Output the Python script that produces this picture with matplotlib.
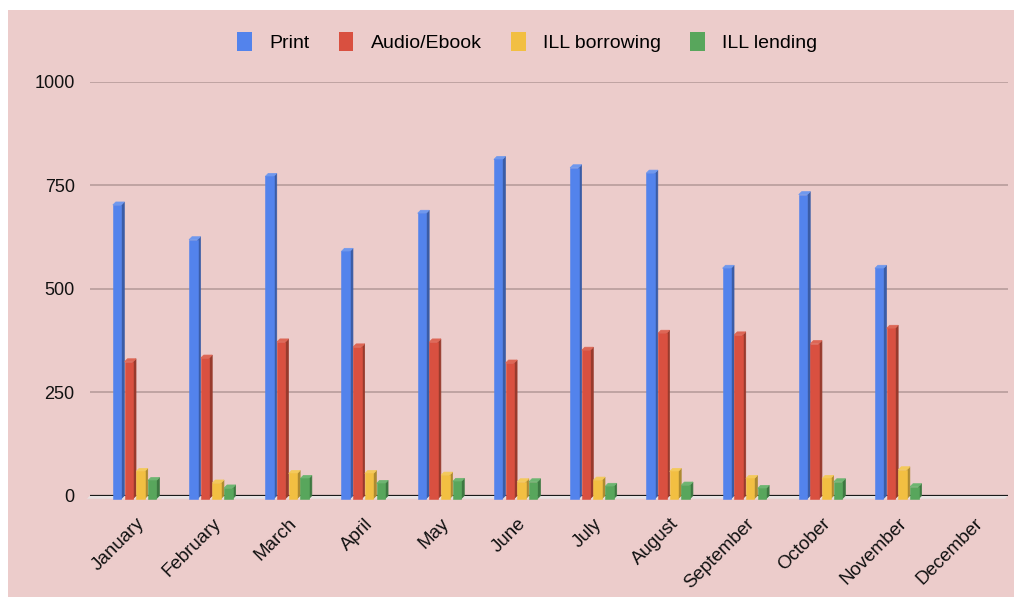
import numpy as np
import matplotlib.pyplot as plt
from matplotlib.patches import Patch, Rectangle

# Monthly circulation data (December empty)
months = ["January", "February", "March", "April", "May", "June",
          "July", "August", "September", "October", "November", "December"]
print_vals = [710, 626, 779, 598, 690, 820, 800, 787, 557, 735, 557, np.nan]
audio_vals = [331, 340, 379, 367, 379, 328, 359, 400, 396, 375, 412, np.nan]
ill_borrow = [66, 38, 61, 61, 57, 41, 45, 66, 49, 49, 70, np.nan]
ill_lend = [44, 26, 49, 37, 42, 41, 30, 33, 25, 41, 29, np.nan]

series = [print_vals, audio_vals, ill_borrow, ill_lend]
names = ["Print", "Audio/Ebook", "ILL borrowing", "ILL lending"]
# front, side, cap colours for the fake 3D look
front = ["#5383EC", "#D95040", "#F2BF42", "#58A65C"]
side = ["#3A5CA6", "#983A2C", "#AD8A30", "#3D7841"]
cap = ["#6F98EE", "#DD6655", "#F4C95A", "#6DB571"]

plt.rcParams['font.family'] = ['Liberation Sans', 'DejaVu Sans']

fig = plt.figure(figsize=(10.14, 5.97), dpi=100, facecolor="white")
fig.patches.append(Rectangle((8 / 1014, 0), 1, 1 - 10 / 597, transform=fig.transFigure,
                             facecolor="#ECCCCB", edgecolor="none", zorder=-10))

ax = fig.add_axes([90 / 1014, 101.3 / 597, 918 / 1014, 413.7 / 597])
ax.set_facecolor("none")
xmin, xmax = -0.605, 11.44
ax.set_xlim(xmin, xmax)
ax.set_ylim(0, 1000)

# depth of the 3D effect: ~3px
dx = 3 / 76.2
dy = 3 * 1000 / 413.7
w = 8.5 / 76.2
pitch = 11.7 / 76.2

# floor strip + baseline
ax.fill([xmin - dx, xmax - dx, xmax, xmin], [-dy, -dy, 0, 0], color="#E7E2E2",
        clip_on=False, zorder=1, lw=0)
ax.axhline(0, color="#1a1a1a", lw=1.6, zorder=2)

x = np.arange(len(months))
for k, vals in enumerate(series):
    xl = x + (k - 1.5) * pitch - dx / 2 - w / 2
    for xi, v in zip(xl, vals):
        if np.isnan(v):
            continue
        ax.fill([xi + w, xi + w + dx, xi + w + dx, xi + w],
                [-dy, 0, v, v - dy], fc=side[k], ec=side[k], lw=0.5,
                zorder=3, clip_on=False)
        ax.fill([xi, xi + w, xi + w + dx, xi + dx],
                [v - dy, v - dy, v, v], fc=cap[k], ec=cap[k], lw=0.5,
                zorder=3, clip_on=False)
        # front face: from -dy up to v - dy
        ax.bar(xi, v, width=w, bottom=-dy, align="edge", color=front[k],
               ec=front[k], lw=0.4, zorder=4, clip_on=False)

ax.set_yticks([0, 250, 500, 750, 1000])
ax.yaxis.grid(True, color="#B89D9C", lw=1.2)
ax.set_axisbelow(True)
for s in ax.spines.values():
    s.set_visible(False)
ax.tick_params(axis="y", length=0, pad=11, labelsize=13, labelcolor="#111111")
ax.set_xticks(x)
ax.set_xticklabels(months, rotation=45, ha="right", rotation_mode="anchor",
                   fontsize=13.5, color="#111111")
ax.tick_params(axis="x", length=0, pad=14)

handles = [Patch(facecolor=c, edgecolor="none") for c in front]
fig.legend(handles, names, loc="center", bbox_to_anchor=(0.52, 1 - 42 / 597),
           ncol=4, frameon=False, fontsize=14, handlelength=0.75, handleheight=1.1,
           columnspacing=1.5, handletextpad=0.9)

fig.savefig("out.png", dpi=100, facecolor="white")
